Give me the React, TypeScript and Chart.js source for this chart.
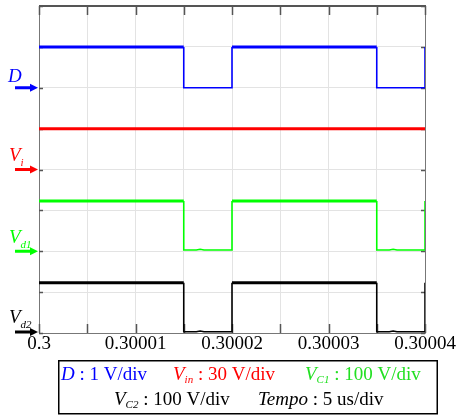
import React, { useEffect, useRef } from "react";
import { Chart, registerables } from "chart.js";
Chart.register(...registerables);

// ---- data ----
const timeUs = [0, 15, 15, 20, 20, 35, 35, 40, 40];
const dVolts = [1, 1, 0, 0, 1, 1, 0, 0, 1];
const vinTimeUs = [0, 40];
const vinVolts = [30, 30];
const vcTimeUs = [0, 15, 15, 16.3, 16.7, 17.1, 20, 20, 35, 35, 36.3, 36.7, 37.1, 40, 40];
const vc1Volts = [123, 123, 3, 3, 5, 3, 3, 123, 123, 3, 3, 5, 3, 3, 123];
const vc2Volts = [123, 123, 3, 3, 5, 3, 3, 123, 123, 3, 3, 5, 3, 3, 123];
const xTickLabels = ["0.3", "0.30001", "0.30002", "0.30003", "0.30004"];

// channel settings: volts per division and baseline division
const dScale = 1, dBase = 6;
const vinScale = 30, vinBase = 4;
const vc1Scale = 100, vc1Base = 2;
const vc2Scale = 100, vc2Base = 0;

const BLUE = "#0000ff";
const RED = "#ff0000";
const GREEN = "#00ff00";
const LEGEND_GREEN = "#22e022";
const BLACK = "#000000";
const SERIF = '"Liberation Serif", "Times New Roman", serif';

type Run = { t: string; italic?: boolean; sub?: boolean };

function drawRuns(ctx: CanvasRenderingContext2D, runs: Run[], x: number, y: number, color: string, size: number, subSize: number, subDy: number) {
  ctx.save();
  ctx.fillStyle = color;
  ctx.textAlign = "left";
  ctx.textBaseline = "alphabetic";
  let cx = x;
  for (const r of runs) {
    const fs = r.sub ? subSize : size;
    ctx.font = `${r.italic ? "italic " : ""}${fs}px ${SERIF}`;
    ctx.fillText(r.t, cx, r.sub ? y + subDy : y);
    cx += ctx.measureText(r.t).width;
  }
  ctx.restore();
}

function mk(times: number[], vals: number[], scale: number, base: number) {
  return times.map((t, i) => ({ x: t, y: base + vals[i] / scale }));
}

function seg(base: number) {
  return {
    borderWidth: (c: any) =>
      c.p0.parsed.y === c.p1.parsed.y && c.p0.parsed.y > base + 0.5 ? 3 : 1.6,
  };
}

const framePlugin = {
  id: "scopeFrame",
  beforeDatasetsDraw(chart: any) {
    const { ctx, chartArea: a, scales } = chart;
    const xs = scales.x, ys = scales.y;
    ctx.save();
    ctx.strokeStyle = "#777";
    ctx.lineWidth = 1;
    ctx.beginPath();
    ctx.moveTo(a.left + 0.5, a.top);
    ctx.lineTo(a.left + 0.5, a.bottom + 0.5);
    ctx.lineTo(a.right + 0.5, a.bottom + 0.5);
    ctx.lineTo(a.right + 0.5, a.top);
    ctx.stroke();
    ctx.strokeStyle = "#555";
    ctx.lineWidth = 2;
    ctx.beginPath();
    ctx.moveTo(a.left, a.top);
    ctx.lineTo(a.right + 1, a.top);
    ctx.stroke();
    ctx.lineWidth = 1.5;
    ctx.strokeStyle = "#555";
    for (let t = 0; t <= 40; t += 5) {
      const px = Math.round(xs.getPixelForValue(t)) + 0.5;
      ctx.beginPath();
      ctx.moveTo(px, a.top);
      ctx.lineTo(px, a.top + 9);
      ctx.moveTo(px, a.bottom);
      ctx.lineTo(px, a.bottom - 9);
      ctx.stroke();
    }
    for (let d = 0; d <= 8; d++) {
      const py = Math.round(ys.getPixelForValue(d)) + 0.5;
      ctx.beginPath();
      ctx.moveTo(a.left, py);
      ctx.lineTo(a.left + 4, py);
      ctx.moveTo(a.right, py);
      ctx.lineTo(a.right - 4, py);
      ctx.stroke();
    }
    ctx.restore();
  },
  afterDraw(chart: any) {
    const { ctx, scales } = chart;
    const ys = scales.y;
    const arrow = (y: number, color: string) => {
      ctx.save();
      ctx.strokeStyle = color;
      ctx.fillStyle = color;
      ctx.lineWidth = 3;
      ctx.beginPath();
      ctx.moveTo(15, y);
      ctx.lineTo(31, y);
      ctx.stroke();
      ctx.beginPath();
      ctx.moveTo(30, y - 4);
      ctx.lineTo(38, y);
      ctx.lineTo(30, y + 4);
      ctx.closePath();
      ctx.fill();
      ctx.restore();
    };
    const yD = ys.getPixelForValue(dBase);
    const yVin = ys.getPixelForValue(vinBase);
    const yV1 = ys.getPixelForValue(vc1Base);
    const yV2 = ys.getPixelForValue(vc2Base) - 1;
    arrow(yD, BLUE);
    arrow(yVin, RED);
    arrow(yV1, GREEN);
    arrow(yV2, BLACK);
    drawRuns(ctx, [{ t: "D", italic: true }], 8, yD - 6, BLUE, 19, 11, 5);
    drawRuns(ctx, [{ t: "V", italic: true }, { t: "i", italic: true, sub: true }], 9, yVin - 9, RED, 19, 11, 5);
    drawRuns(ctx, [{ t: "V", italic: true }, { t: "d1", italic: true, sub: true }], 9, yV1 - 8, GREEN, 19, 11, 5);
    drawRuns(ctx, [{ t: "V", italic: true }, { t: "d2", italic: true, sub: true }], 9, yV2 - 9, BLACK, 19, 11, 5);

    // legend box
    ctx.save();
    ctx.strokeStyle = "#000";
    ctx.lineWidth = 1.5;
    ctx.strokeRect(58.75, 360.75, 378.5, 53);
    ctx.restore();
    drawRuns(ctx, [{ t: "D", italic: true }, { t: " : 1 V/div" }], 61, 380, BLUE, 19, 11, 3);
    drawRuns(ctx, [{ t: "V", italic: true }, { t: "in", italic: true, sub: true }, { t: " : 30 V/div" }], 173, 380, RED, 19, 11, 3);
    drawRuns(ctx, [{ t: "V", italic: true }, { t: "C1", italic: true, sub: true }, { t: " : 100 V/div" }], 305, 380, LEGEND_GREEN, 19, 11, 3);
    drawRuns(ctx, [{ t: "V", italic: true }, { t: "C2", italic: true, sub: true }, { t: " : 100 V/div" }], 114, 405, BLACK, 19, 11, 3);
    drawRuns(ctx, [{ t: "Tempo", italic: true }, { t: " : 5 us/div" }], 258, 405, BLACK, 19, 11, 3);
  },
};

export default function App() {
  const ref = useRef<HTMLCanvasElement | null>(null);
  useEffect(() => {
    if (!ref.current) return;
    const chart = new Chart(ref.current, {
      type: "line",
      data: {
        datasets: [
          { label: "D", data: mk(timeUs, dVolts, dScale, dBase), borderColor: BLUE, segment: seg(dBase) as any },
          { label: "Vin", data: mk(vinTimeUs, vinVolts, vinScale, vinBase), borderColor: RED, borderWidth: 3 },
          { label: "VC1", data: mk(vcTimeUs, vc1Volts, vc1Scale, vc1Base), borderColor: GREEN, segment: seg(vc1Base) as any },
          { label: "VC2", data: mk(vcTimeUs, vc2Volts, vc2Scale, vc2Base), borderColor: BLACK, segment: seg(vc2Base) as any },
        ].map((d: any) => ({ pointRadius: 0, tension: 0, fill: false, borderWidth: d.borderWidth ?? 1.6, ...d })),
      },
      options: {
        responsive: false,
        animation: false,
        layout: { padding: { left: 39, right: 42, top: 6, bottom: 0 } },
        plugins: { legend: { display: false }, tooltip: { enabled: false } },
        scales: {
          x: {
            type: "linear",
            min: 0,
            max: 40,
            afterFit: (s: any) => { s.height = 82; },
            grid: { color: "#e3e3e3", lineWidth: 1, drawTicks: false },
            border: { display: false },
            ticks: {
              stepSize: 5,
              autoSkip: false,
              maxRotation: 0,
              padding: 0,
              color: "#000",
              font: { family: SERIF, size: 19 },
              callback: (v: any) => (Number(v) % 10 === 0 ? xTickLabels[Number(v) / 10] : ""),
            },
          },
          y: {
            type: "linear",
            min: 0,
            max: 8,
            afterFit: (s: any) => { s.width = 0; },
            grid: { color: "#e3e3e3", lineWidth: 1, drawTicks: false },
            border: { display: false },
            ticks: { stepSize: 1, display: false },
          },
        },
      },
      plugins: [framePlugin],
    });
    return () => chart.destroy();
  }, []);
  return (
    <div style={{ position: "absolute", left: 0, top: 0, width: 467, height: 415, background: "#fff" }}>
      <canvas ref={ref} width={467} height={415} />
    </div>
  );
}
